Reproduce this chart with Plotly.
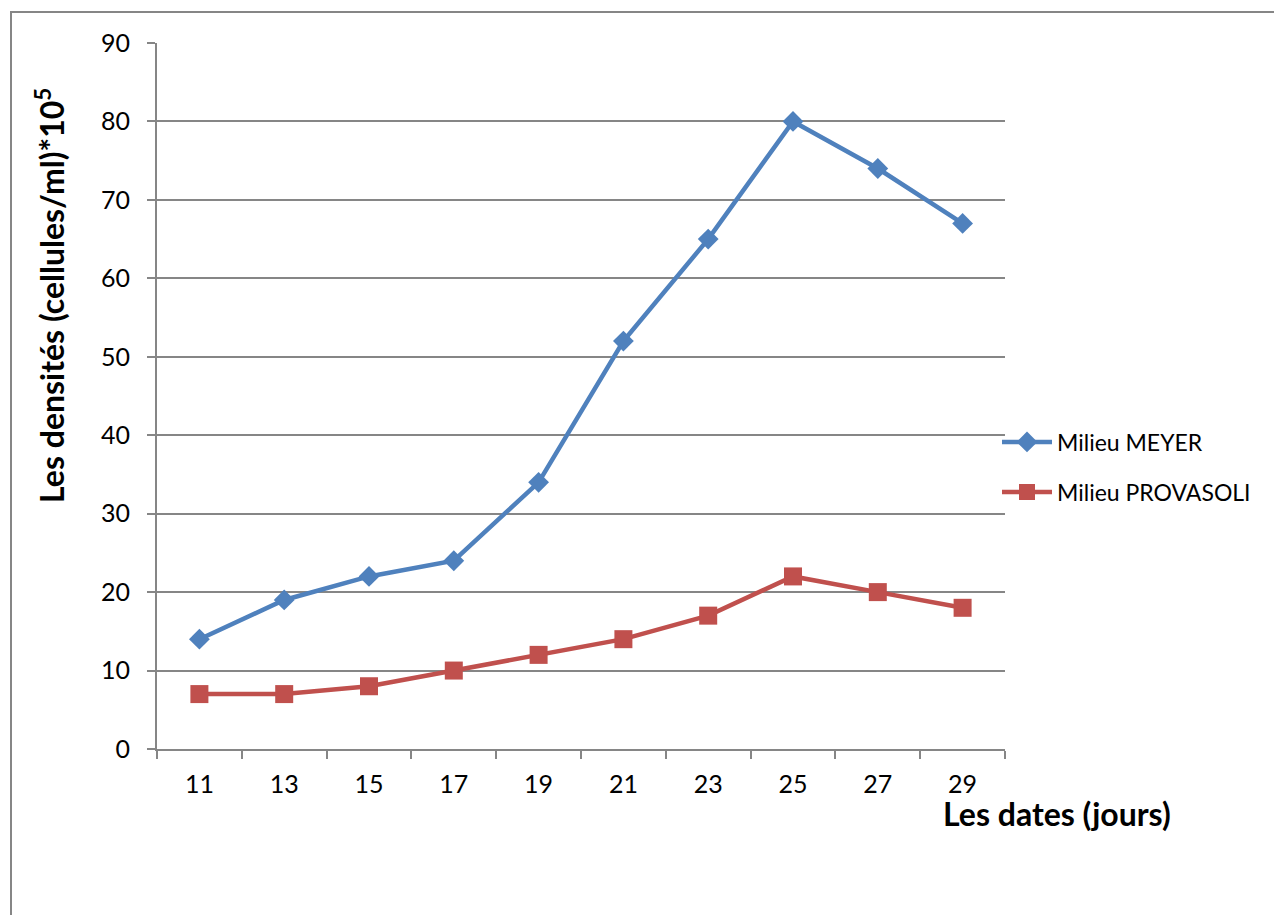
import plotly.graph_objects as go

dates = ["11", "13", "15", "17", "19", "21", "23", "25", "27", "29"]
meyer = [14, 19, 22, 24, 34, 52, 65, 80, 74, 67]
provasoli = [7, 7, 8, 10, 12, 14, 17, 22, 20, 18]
y_ticks = [0, 10, 20, 30, 40, 50, 60, 70, 80, 90]

W, H = 1274, 915
L, R, T, B = 157, 1005, 43, 749
pw, ph = R - L, B - T

def px(x):
    return (x - L) / pw

def py(y):
    return (B - y) / ph

FONT = "Lato"
fig = go.Figure()
fig.add_trace(go.Scatter(
    x=dates, y=meyer, name="Milieu MEYER", mode="lines+markers",
    line=dict(color="#4F81BD", width=4.5),
    marker=dict(symbol="diamond", size=16, color="#4F81BD"),
    legend="legend", showlegend=True,
))
fig.add_trace(go.Scatter(
    x=dates, y=provasoli, name="Milieu PROVASOLI", mode="lines+markers",
    line=dict(color="#C0504D", width=4.5),
    marker=dict(symbol="square", size=18, color="#C0504D"),
    legend="legend2", showlegend=True,
))

fig.update_layout(
    width=W, height=H,
    showlegend=True,
    margin=dict(l=L, r=W - R, t=T, b=H - B),
    paper_bgcolor="white", plot_bgcolor="white",
    font=dict(family=FONT, size=24, color="black"),
    legend=dict(x=px(997), y=py(442), xanchor="left", yanchor="middle",
                font=dict(size=23), bgcolor="rgba(0,0,0,0)", visible=True,
                itemwidth=50),
    legend2=dict(x=px(997), y=py(492), xanchor="left", yanchor="middle",
                 font=dict(size=23), bgcolor="rgba(0,0,0,0)", visible=True,
                 itemwidth=50),
    xaxis=dict(
        type="category", range=[-0.5, 9.5], tickson="boundaries",
        ticks="outside", ticklen=8, tickcolor="#868686", tickwidth=2,
        showline=True, linecolor="#868686", linewidth=2,
        showgrid=False, tickfont=dict(size=25), fixedrange=True,
        ticklabelstandoff=12,
    ),
    yaxis=dict(
        range=[0, 90], tickvals=y_ticks, ticks="outside", ticklen=8,
        tickcolor="#868686", tickwidth=2,
        showline=True, linecolor="#868686", linewidth=2,
        showgrid=True, gridcolor="#868686", gridwidth=2,
        zeroline=False, tickfont=dict(size=25), ticklabelstandoff=12,
    ),
    shapes=[
        dict(type="line", xref="paper", yref="paper",
             x0=px(11), x1=px(11), y0=py(H + 5), y1=py(12),
             line=dict(color="#868686", width=2)),
        dict(type="line", xref="paper", yref="paper",
             x0=px(10), x1=px(W + 5), y0=py(12), y1=py(12),
             line=dict(color="#868686", width=2)),
    ],
    annotations=[
        dict(text="Les dates (jours)", xref="paper", yref="paper",
             x=px(1057), y=py(813), xanchor="center", yanchor="middle",
             showarrow=False,
             font=dict(size=32, family=FONT, color="black", weight="bold")),
        dict(text="Les densités (cellules/ml)*10<sup>5</sup>", xref="paper", yref="paper",
             x=px(50), y=py(296), xanchor="center", yanchor="middle",
             textangle=-90, showarrow=False,
             font=dict(size=32, family=FONT, color="black", weight="bold")),
    ],
)

fig.write_html("out.html")
